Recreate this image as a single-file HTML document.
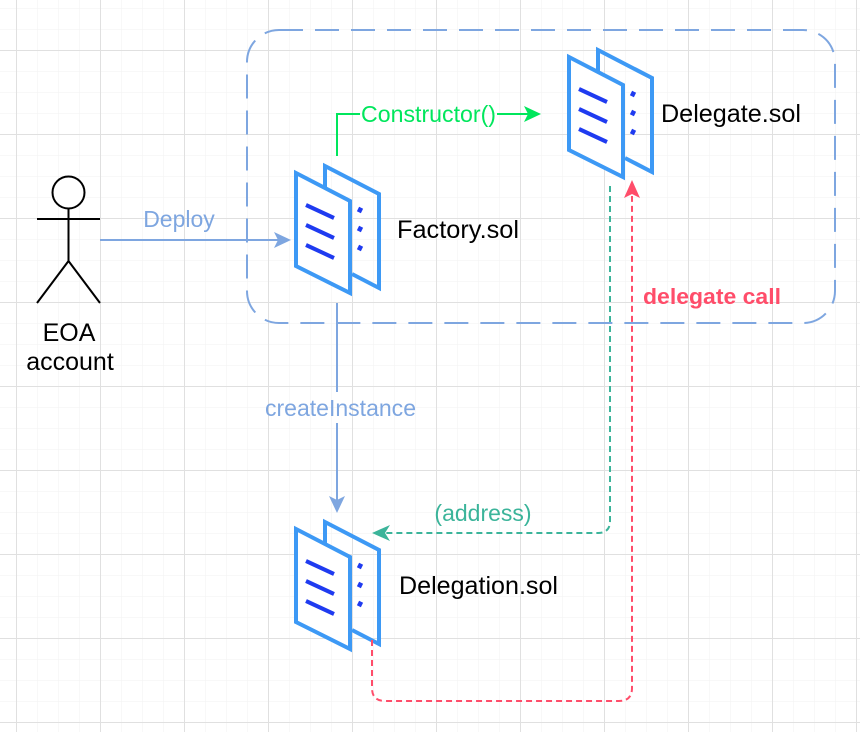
<!DOCTYPE html>
<html><head><meta charset="utf-8"><style>
html,body{margin:0;padding:0;background:#fff}
svg{display:block}
text{font-family:"Liberation Sans",sans-serif}
</style></head><body>
<svg width="860" height="732" viewBox="0 0 860 732" xmlns="http://www.w3.org/2000/svg">
<defs>
<pattern id="minor" width="21" height="21" patternUnits="userSpaceOnUse" x="16" y="8">
<path d="M0 0H21M0 0V21" stroke="#f2f2f2" stroke-width="1" fill="none"/>
</pattern>
<pattern id="major" width="84" height="84" patternUnits="userSpaceOnUse" x="16" y="50">
<path d="M0 0.5H84M0.5 0V84" stroke="#e0e0e0" stroke-width="1" fill="none"/>
</pattern>
<g id="doc">
<path d="M29,14 L29,-7 L83,21 L83,115 L56,101" fill="none" stroke="#3D99F5" stroke-width="4"/>
<path d="M0,0 L54,28 L54,120 L0,93 Z" fill="#fff" stroke="#3D99F5" stroke-width="4" stroke-linejoin="miter"/>
<path d="M10,32 L38,45 M10,52 L38,65 M10,72 L38,85" stroke="#1F3BF0" stroke-width="4"/>
<path d="M62,36 L66,38 M62,55 L66,57 M62,74 L66,76" stroke="#1F3BF0" stroke-width="5" stroke-linecap="butt"/>
</g>
</defs>
<rect width="860" height="732" fill="url(#minor)"/>
<rect width="860" height="732" fill="url(#major)"/>

<rect x="247" y="30" width="588" height="293" rx="32" fill="none" stroke="#7EA6E0" stroke-width="2" stroke-dasharray="24 12"/>

<g stroke="#000" stroke-width="2" fill="none">
<circle cx="68.5" cy="192.5" r="16" fill="#fff"/>
<path d="M68.5 208.5V261M37 219H100M68.5 261L37 303M68.5 261L100 303"/>
</g>
<text x="69" y="341" font-size="25" text-anchor="middle">EOA</text>
<text x="70" y="370" font-size="25" text-anchor="middle">account</text>

<use href="#doc" x="296" y="173"/>
<use href="#doc" x="569" y="57"/>
<use href="#doc" x="296" y="529"/>
<text x="397" y="238" font-size="25" textLength="122" lengthAdjust="spacingAndGlyphs">Factory.sol</text>
<text x="661" y="122" font-size="25" textLength="140" lengthAdjust="spacingAndGlyphs">Delegate.sol</text>
<text x="399" y="594" font-size="25" textLength="159" lengthAdjust="spacingAndGlyphs">Delegation.sol</text>

<path d="M100 240H280" stroke="#7EA6E0" stroke-width="2"/>
<path d="M291 240L274 232L278 240L274 248Z" fill="#7EA6E0"/>
<text x="179" y="227" font-size="23" fill="#7EA6E0" text-anchor="middle">Deploy</text>

<path d="M337 156V114H360M497 114H528" stroke="#00E65C" stroke-width="2" fill="none"/>
<path d="M541 114L524 106L528 114L524 122Z" fill="#00E65C"/>
<text x="428.5" y="122" font-size="23" fill="#00E65C" text-anchor="middle" textLength="135" lengthAdjust="spacingAndGlyphs">Constructor()</text>

<path d="M337 303V392M337 423V502" stroke="#7EA6E0" stroke-width="2"/>
<path d="M337 513L329 496L337 500L345 496Z" fill="#7EA6E0"/>
<text x="340.5" y="416" font-size="23" fill="#7EA6E0" text-anchor="middle" textLength="151" lengthAdjust="spacingAndGlyphs">createInstance</text>

<path d="M610 186V521Q610 533 598 533H384" stroke="#3BB49A" stroke-width="2" fill="none" stroke-dasharray="6 4"/>
<path d="M372 533L390 525L385 533L390 541Z" fill="#3BB49A"/>
<text x="483" y="521" font-size="23" fill="#3BB49A" text-anchor="middle">(address)</text>

<path d="M372 640V688Q372 701 385 701H619Q632 701 632 688V196" stroke="#FF4D6A" stroke-width="2" fill="none" stroke-dasharray="6 4"/>
<path d="M632 180L624 198L632 194L640 198Z" fill="#FF4D6A"/>
<text x="712" y="304" font-size="22" font-weight="bold" fill="#FF4D6A" text-anchor="middle" textLength="138" lengthAdjust="spacingAndGlyphs">delegate call</text>
</svg>
</body></html>
